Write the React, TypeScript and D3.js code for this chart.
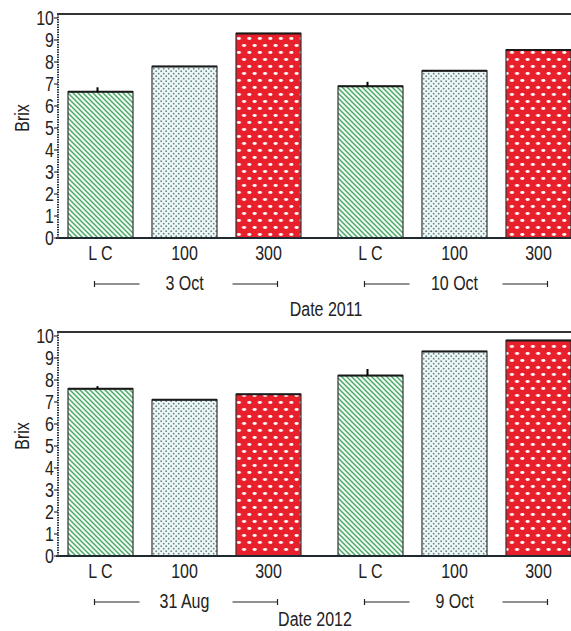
import React from 'react'
import { scaleBand, scaleLinear } from 'd3'

// data
const treatments = ['L C', '100', '300']
const dates2011 = ['3 Oct', '10 Oct']
const dates2012 = ['31 Aug', '9 Oct']
const brix3Oct = [6.65, 7.8, 9.3]
const brix10Oct = [6.9, 7.6, 8.55]
const brix31Aug = [7.6, 7.1, 7.35]
const brix9Oct = [8.2, 9.3, 9.8]
const err3Oct = [0.2, 0, 0]
const err10Oct = [0.2, 0, 0]
const err31Aug = [0.12, 0, 0]
const err9Oct = [0.3, 0, 0]
const yTicks = [0, 1, 2, 3, 4, 5, 6, 7, 8, 9, 10]

const W = 571
const H = 631
const axisX = 58
const NARROW = 0.8
const ink = '#222'
const fills = ['url(#hatch)', 'url(#dots)', 'url(#spots)']

function T({ x, y, children, anchor = 'middle', size = 20, rotate = 0 }) {
  return (
    <text transform={`translate(${x},${y}) rotate(${rotate}) scale(${NARROW},1)`}
      textAnchor={anchor} fontSize={size} fill={ink} dominantBaseline="central"
      fontFamily="'Liberation Sans', Arial, sans-serif">{children}</text>
  )
}

// x scales shared by both panels
const outer = scaleBand().domain(['a', 'b']).range([68, 571]).paddingInner(0.137)
const inner = scaleBand().domain(treatments).range([0, outer.bandwidth()]).paddingInner(0.226)

function Panel({ y0, dates, values, errors, title, titleX, titleDy }) {
  const yScale = scaleLinear().domain([0, 10]).range([y0, y0 - 220])
  const frameTop = yScale(10) - 4
  const groups = ['a', 'b']
  return (
    <g>
      {/* bars */}
      {groups.map((g, gi) => treatments.map((t, ti) => {
        const x = outer(g) + inner(t)
        const v = values[gi][ti]
        const e = errors[gi][ti]
        const cx = x + inner.bandwidth() / 2
        return (
          <g key={g + t}>
            <rect x={x} y={yScale(v)} width={inner.bandwidth()} height={y0 - yScale(v)}
              fill={fills[ti]} stroke="#333" strokeWidth={1.2} />
            <line x1={x} x2={x + inner.bandwidth()} y1={yScale(v)} y2={yScale(v)} stroke="#1a1a1a" strokeWidth={2} />
            {e > 0 && <line x1={cx - 3} x2={cx - 3} y1={yScale(v)} y2={yScale(v + e)} stroke="#000" strokeWidth={2} />}
            <T x={cx} y={y0 + 15}>{t}</T>
          </g>
        )
      }))}
      {/* frame */}
      <line x1={axisX - 1} x2={W} y1={frameTop} y2={frameTop} stroke="#333" strokeWidth={2} />
      <line x1={axisX - 2} x2={W} y1={y0} y2={y0} stroke="#1f2a30" strokeWidth={2.2} />
      <line x1={axisX} x2={axisX} y1={y0} y2={frameTop} stroke="#2a3a4a" strokeWidth={2} strokeDasharray="1.5,1" />
      {yTicks.map(t => (
        <g key={t}>
          <line x1={axisX - 4} x2={axisX} y1={yScale(t)} y2={yScale(t)} stroke="#333" strokeWidth={1.2} />
          <T x={axisX - 4} y={yScale(t)} anchor="end">{t}</T>
        </g>
      ))}
      <T x={22} y={y0 - 120} rotate={-90}>Brix</T>
      {/* date rows */}
      {groups.map((g, gi) => {
        const c = outer(g) + outer.bandwidth() / 2
        const ly = y0 + 46
        return (
          <g key={g}>
            <g stroke="#222" strokeWidth={1.2}>
              <line x1={c - 90} x2={c - 45} y1={ly} y2={ly} />
              <line x1={c - 90} x2={c - 90} y1={ly - 3} y2={ly + 3} />
              <line x1={c + 48} x2={c + 93} y1={ly} y2={ly} />
              <line x1={c + 93} x2={c + 93} y1={ly - 3} y2={ly + 3} />
            </g>
            <T x={c} y={y0 + 45}>{dates[gi]}</T>
          </g>
        )
      })}
      <T x={titleX} y={y0 + titleDy}>{title}</T>
    </g>
  )
}

export default function App() {
  return (
    <svg width={W} height={H} viewBox={`0 0 ${W} ${H}`}
      style={{ position: 'absolute', left: 0, top: 0, background: '#fff' }}>
      <defs>
        <pattern id="hatch" patternUnits="userSpaceOnUse" width={5} height={5}>
          <rect width={5} height={5} fill="#f1faf2" />
          <path d="M0,0 L5,5 M-2,3 L2,7 M3,-2 L7,2" stroke="#45a563" strokeWidth={1.35} />
        </pattern>
        <pattern id="dots" patternUnits="userSpaceOnUse" width={5} height={5}>
          <rect width={5} height={5} fill="#eef7f7" />
          <circle cx={1.2} cy={1.2} r={0.9} fill="#668783" />
          <circle cx={3.7} cy={3.7} r={0.9} fill="#668783" />
        </pattern>
        <pattern id="spots" patternUnits="userSpaceOnUse" width={10.5} height={14}>
          <rect width={10.5} height={14} fill="#e8202b" />
          <ellipse cx={2.6} cy={3.5} rx={2.1} ry={1.4} fill="#fff" />
          <ellipse cx={7.85} cy={10.5} rx={2.1} ry={1.4} fill="#fff" />
        </pattern>
      </defs>
      <Panel y0={238} dates={dates2011} values={[brix3Oct, brix10Oct]} errors={[err3Oct, err10Oct]}
        title="Date 2011" titleX={326} titleDy={71} />
      <Panel y0={556} dates={dates2012} values={[brix31Aug, brix9Oct]} errors={[err31Aug, err9Oct]}
        title="Date 2012" titleX={315} titleDy={63} />
    </svg>
  )
}
